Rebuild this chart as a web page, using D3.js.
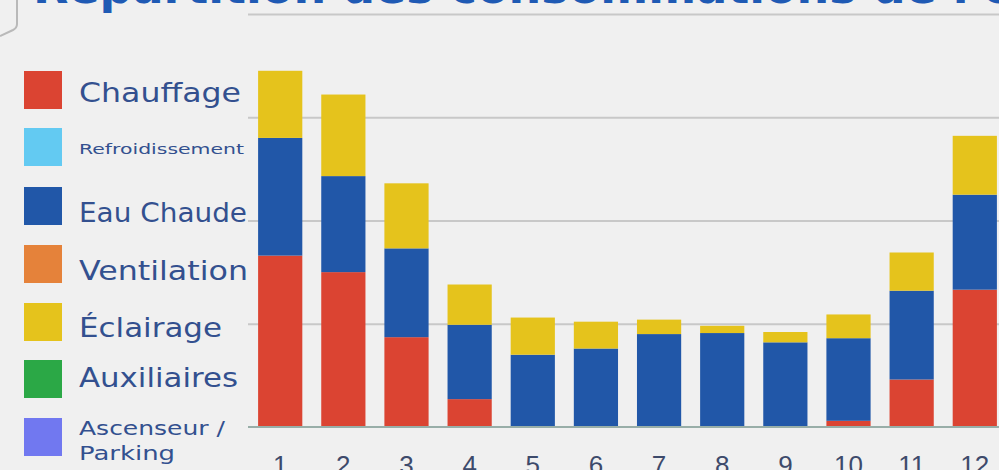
<!DOCTYPE html>
<meta charset="utf-8">
<style>
body{margin:0;background-color:#f0f0f0;overflow:hidden;}
svg{display:block;font-family:"DejaVu Sans",sans-serif;}
.grid line{stroke:#c8c8c8;stroke-width:2px;}
.grid path{display:none;}
.xaxis path,.xaxis line{display:none;}
.xaxis text{font-size:26px;fill:#3d4a6b;}
</style>
<svg id="chart" width="999" height="470"></svg>
<script src="https://d3js.org/d3.v7.min.js"></script>
<script>
// months and consumption per end use (stacked from the bottom)
const months = ['1','2','3','4','5','6','7','8','9','10','11','12']
const series = ['Chauffage','Refroidissement','Eau Chaude','Ventilation','Éclairage','Auxiliaires','Ascenseur / Parking']
const colors = ['#db4432','#63caf2','#2157a8','#e5823a','#e5c31c','#2ba846','#7178f0']

const chauffage       = [16.6, 15.0, 8.7, 2.7, 0, 0, 0, 0, 0, 0.6, 4.6, 13.3]
const refroidissement = [0, 0, 0, 0, 0, 0, 0, 0, 0, 0, 0, 0]
const eauChaude       = [11.4, 9.3, 8.6, 7.2, 7.0, 7.6, 9.0, 9.1, 8.2, 8.0, 8.6, 9.2]
const ventilation     = [0, 0, 0, 0, 0, 0, 0, 0, 0, 0, 0, 0]
const eclairage       = [6.5, 7.9, 6.3, 3.9, 3.6, 2.6, 1.4, 0.7, 1.0, 2.3, 3.7, 5.7]
const auxiliaires     = [0, 0, 0, 0, 0, 0, 0, 0, 0, 0, 0, 0]
const ascenseur       = [0, 0, 0, 0, 0, 0, 0, 0, 0, 0, 0, 0]
const gridTicks = [0, 10, 20, 30, 40]

const values = [chauffage, refroidissement, eauChaude, ventilation, eclairage, auxiliaires, ascenseur]
const table = months.map((m, i) => {
  const row = {month: m}
  series.forEach((s, j) => row[s] = values[j][i])
  return row
})

let svg = d3.select('svg#chart')

// card corner on the left
svg.append('path')
  .attr('d', 'M17,0 L17,24 Q17,28 13,30 L0,36')
  .attr('fill', 'none').attr('stroke', '#b9b9b9').attr('stroke-width', 2)

// title, mostly cut off by the top edge
svg.append('text')
  .attr('x', 33).attr('y', 3)
  .attr('font-size', 46).attr('font-weight', 'bold')
  .attr('fill', '#1f5ab4')
  .text("Répartition des consommations de l'énergie")

const x = d3.scaleBand().domain(months).range([248, 1007]).paddingInner(0.3).paddingOuter(0.16)
const y = d3.scaleLinear().domain([0, 40]).range([427, 14])

svg.append('g').attr('class', 'grid')
  .attr('transform', 'translate(248,0)')
  .call(d3.axisLeft(y).tickValues(gridTicks.slice(1)).tickSize(-760).tickFormat(''))

const stack = d3.stack().keys(series)(table)

svg.append('g').selectAll('g').data(stack).join('g')
  .attr('fill', (d, i) => colors[i])
  .selectAll('rect').data(d => d).join('rect')
  .attr('x', d => x(d.data.month))
  .attr('width', x.bandwidth())
  .attr('y', d => y(d[1]))
  .attr('height', d => y(d[0]) - y(d[1]))

// baseline
svg.append('line')
  .attr('x1', 248).attr('x2', 999).attr('y1', y(0)).attr('y2', y(0))
  .attr('stroke', '#98aea8').attr('stroke-width', 2)

svg.append('g').attr('class', 'xaxis')
  .attr('transform', 'translate(0,' + y(0) + ')')
  .call(d3.axisBottom(x).tickSize(0).tickPadding(29))

// legend
const legendY = [71, 128, 187, 245, 303, 360, 418]
const legendText = [
  {lines: ['Chauffage'], size: 27, len: 162, dy: [31]},
  {lines: ['Refroidissement'], size: 14, len: 165, dy: [26]},
  {lines: ['Eau Chaude'], size: 26, len: 168, dy: [35]},
  {lines: ['Ventilation'], size: 27, len: 169, dy: [35]},
  {lines: ['Éclairage'], size: 27, len: 143, dy: [34]},
  {lines: ['Auxiliaires'], size: 26, len: 159, dy: [27]},
  {lines: ['Ascenseur /', 'Parking'], size: 20, len: [146, 96], dy: [17, 42]}
]
const legend = svg.append('g').selectAll('g').data(series).join('g')
  .attr('transform', (d, i) => 'translate(24,' + legendY[i] + ')')
legend.append('rect')
  .attr('width', 38).attr('height', 38)
  .attr('fill', (d, i) => colors[i])
legend.each(function(d, i) {
  const t = legendText[i]
  t.lines.forEach((line, k) => {
    d3.select(this).append('text')
      .attr('x', 55).attr('y', t.dy[k])
      .attr('font-size', t.size).attr('fill', '#33508f')
      .attr('textLength', Array.isArray(t.len) ? t.len[k] : t.len)
      .attr('lengthAdjust', 'spacingAndGlyphs')
      .text(line)
  })
})
</script>
